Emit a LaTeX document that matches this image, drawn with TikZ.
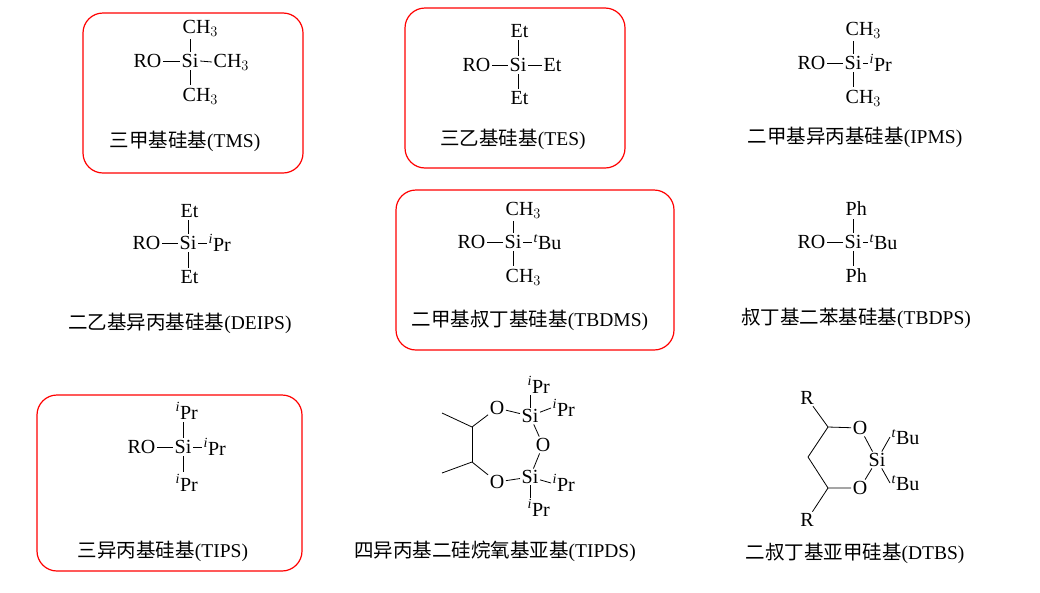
\documentclass[tikz,border=0pt]{standalone}
\usepackage{fontspec}
\setmainfont{Liberation Serif}
\newfontfamily\cjk{Noto Sans CJK SC}
\begin{document}
\begin{tikzpicture}[x=1pt,y=-1pt,
  every node/.style={font=\fontsize{20}{24}\selectfont, inner sep=1.5pt},
  caption/.style={font=\fontsize{19.5}{24}\selectfont},
  bond/.style={line width=0.8pt},
  box/.style={draw=red, line width=1.2pt, rounded corners=20pt}]
\newcommand{\ipr}{\textsuperscript{\itshape i}Pr}
\newcommand{\tbu}{\textsuperscript{\itshape t}Bu}
\newcommand{\zh}[1]{{\cjk #1}}
\useasboundingbox (0,0) rectangle (1040,592);
% boxes
\draw[box] (83,13) rectangle (303,173);
\draw[box] (405,8) rectangle (625,168);
\draw[box] (396,190) rectangle (674,350);
\draw[box] (37,395) rectangle (302,571);
\newcommand{\silyl}[9]{%
  \node (#1si) at (#2) {Si};
  \node[anchor=east] (#1ro) at (#3) {RO};
  \node[anchor=west] (#1t) at (#4) {#5};
  \node[anchor=west] (#1r) at (#6) {#7};
  \node[anchor=west] (#1b) at (#8) {#9};
  \draw[bond] (#1ro.east) -- (#1si.west);
  \draw[bond] (#1si.east) -- (#1r.west);
  \draw[bond] ([yshift=1pt]#1si.north) -- ([yshift=-1pt]#1si.north |- #1t.south);
  \draw[bond] ([yshift=-1pt]#1si.south) -- ([yshift=1pt]#1si.south |- #1b.north);}
\silyl{a}{190,61}{163,61}{181,28}{CH$_3$}{212,62}{CH$_3$}{181,96}{CH$_3$}
\silyl{b}{518,65}{492,65}{509,31}{Et}{542,65}{Et}{509,98}{Et}
\silyl{c}{853,63}{827,63}{844,30}{CH$_3$}{868,63}{\ipr}{844,98}{CH$_3$}
\silyl{d}{188,243}{162,243}{179,211}{Et}{207,243}{\ipr}{179,277}{Et}
\silyl{e}{513,242}{487,242}{504,210}{CH$_3$}{532,242}{\tbu}{504,277}{CH$_3$}
\silyl{f}{853,242}{827,242}{844,209}{Ph}{868,242}{\tbu}{844,276}{Ph}
\silyl{g}{183,447}{157,447}{174,411}{\ipr}{202,447}{\ipr}{174,483}{\ipr}
% captions
\node[caption] (ca) at (185,141) {\zh{三甲基硅基}(TMS)};
\node[caption] (cb) at (513,139) {\zh{三乙基硅基}(TES)};
\node[caption] (cc) at (855,137) {\zh{二甲基异丙基硅基}(IPMS)};
\node[caption] (cd) at (180,323) {\zh{二乙基异丙基硅基}(DEIPS)};
\node[caption] (ce) at (530,320) {\zh{二甲基叔丁基硅基}(TBDMS)};
\node[caption] (cf) at (856,318) {\zh{叔丁基二苯基硅基}(TBDPS)};
\node[caption] (cg) at (163,551) {\zh{三异丙基硅基}(TIPS)};
\node[caption] (ch) at (495,551) {\zh{四异丙基二硅烷氧基亚基}(TIPDS)};
\node[caption] (ci) at (855,553) {\zh{二叔丁基亚甲硅基}(DTBS)};
% TIPDS
\node (s1) at (530,416) {Si};
\node (o1) at (497,408) {O};
\node (o2) at (543,445) {O};
\node (s2) at (530,477) {Si};
\node (o3) at (497,482) {O};
\node[anchor=west] (p1) at (526,385) {\ipr};
\node[anchor=west] (p2) at (551,408) {\ipr};
\node[anchor=west] (p3) at (551,483) {\ipr};
\node[anchor=west] (p4) at (526,508) {\ipr};
\coordinate (c1) at (472,427);
\coordinate (c2) at (472,462);
\coordinate (m1) at (442,413);
\coordinate (m2) at (442,473);
\draw[bond] (m1) -- (c1) -- (o1);
\draw[bond] (c1) -- (c2);
\draw[bond] (m2) -- (c2) -- (o3);
\draw[bond] (o1) -- (s1);
\draw[bond] (s1) -- (o2);
\draw[bond] (o2) -- (s2);
\draw[bond] (o3) -- (s2);
\draw[bond] (s1.north) -- (s1.north |- p1.south);
\draw[bond] (s1) -- (p2.west);
\draw[bond] (s2) -- (p3.west);
\draw[bond] (s2.south) -- (s2.south |- p4.north);
% DTBS
\node (ra) at (807,398) {R};
\node (rb) at (807,520) {R};
\node (ot) at (860,428) {O};
\node (ob) at (860,488) {O};
\node (si9) at (877,460) {Si};
\node[anchor=west] (u1) at (890,437) {\tbu};
\node[anchor=west] (u2) at (890,483) {\tbu};
\coordinate (k1) at (828,427);
\coordinate (k2) at (808,457);
\coordinate (k3) at (828,488);
\draw[bond] (ra) -- (k1) -- (ot);
\draw[bond] (k1) -- (k2) -- (k3) -- (ob);
\draw[bond] (rb) -- (k3);
\draw[bond] (ot) -- (si9);
\draw[bond] (ob) -- (si9);
\draw[bond] (si9) -- (u1.west);
\draw[bond] (si9) -- (u2.west);
\end{tikzpicture}
\end{document}
